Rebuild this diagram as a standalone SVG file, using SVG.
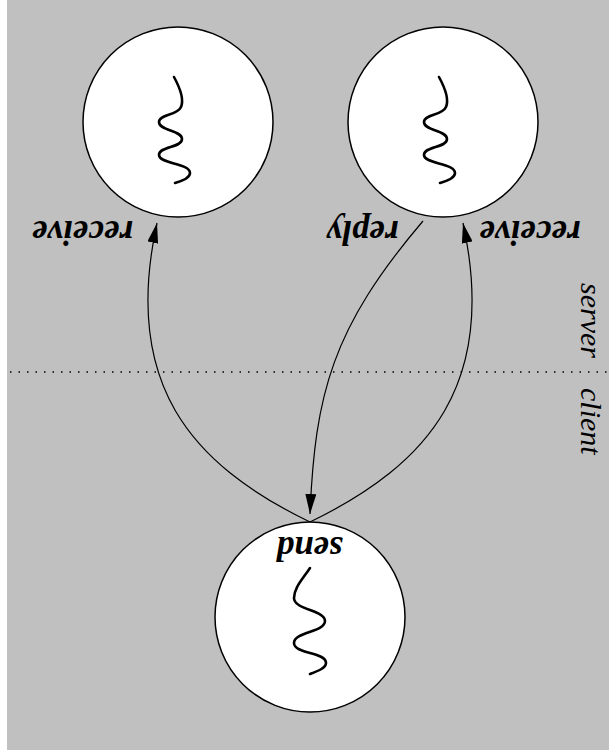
<svg xmlns="http://www.w3.org/2000/svg" width="609" height="755" viewBox="0 0 609 755">
<style>
.bg{fill:#c0c0c0}
.node{fill:#fff;stroke:#000;stroke-width:1.5}
.sq{fill:none;stroke:#000;stroke-width:2.6;stroke-linecap:round}
.conn{fill:none;stroke:#000;stroke-width:1.2}
.div{stroke:#000;stroke-width:1.5;stroke-dasharray:1.5 7}
</style>
<defs>
<marker id="arr" markerUnits="userSpaceOnUse" markerWidth="20" markerHeight="11" refX="20" refY="5.5" orient="auto">
<path d="M0,0 L20,5.5 L0,11 Z" fill="#000"/>
</marker>
<path id="squig" class="sq" d="M174,77 C180,88 184,100 181,107 C177,116 159,114 159,122 C159,131 182,130 182,139 C182,148 159,146 159,155 C159,164 190,163 190,173 C190,178 182,181 175,183"/>
</defs>
<rect class="bg" x="7" y="0" width="602" height="750"/>
<line class="div" x1="10" y1="372" x2="609" y2="372"/>
<g font-family="Liberation Serif, Times New Roman, serif" font-style="italic" font-size="30" fill="#000">
<text transform="translate(581,358) rotate(90)" text-anchor="end">server</text>
<text transform="translate(581,388) rotate(90)" text-anchor="start">client</text>
</g>
<g id="server-left">
<circle class="node" cx="178" cy="122" r="95"/>
<use href="#squig"/>
<text font-family="Liberation Serif, Times New Roman, serif" font-weight="bold" font-style="italic" font-size="35" transform="translate(82.5,221) rotate(180)" text-anchor="middle">receive</text>
</g>
<g id="server-right">
<circle class="node" cx="443" cy="122" r="95"/>
<use href="#squig" transform="translate(265,0)"/>
<text font-family="Liberation Serif, Times New Roman, serif" font-weight="bold" font-style="italic" font-size="35" transform="translate(362.5,221) rotate(180)" text-anchor="middle">reply</text>
<text font-family="Liberation Serif, Times New Roman, serif" font-weight="bold" font-style="italic" font-size="35" transform="translate(530,221) rotate(180)" text-anchor="middle">receive</text>
</g>
<g id="client">
<circle class="node" cx="310" cy="617" r="95"/>
<path class="sq" d="M310,568 C302,580 294,588 294,598 C294,610 325,610 325,621 C325,632 294,632 294,643 C294,654 326,652 326,663 C326,668 318,671 310,674"/>
<text font-family="Liberation Serif, Times New Roman, serif" font-weight="bold" font-style="italic" font-size="35" transform="translate(309.5,537) rotate(180)" text-anchor="middle">send</text>
</g>
<g id="connectors">
<path class="conn" d="M310,522 C190,464 122,383 157,223" marker-end="url(#arr)"/>
<path class="conn" d="M310,522 C430,464 498,383 463,223" marker-end="url(#arr)"/>
<path class="conn" d="M423,221 C332,328 315,394 310,514" marker-end="url(#arr)"/>
</g>
</svg>
